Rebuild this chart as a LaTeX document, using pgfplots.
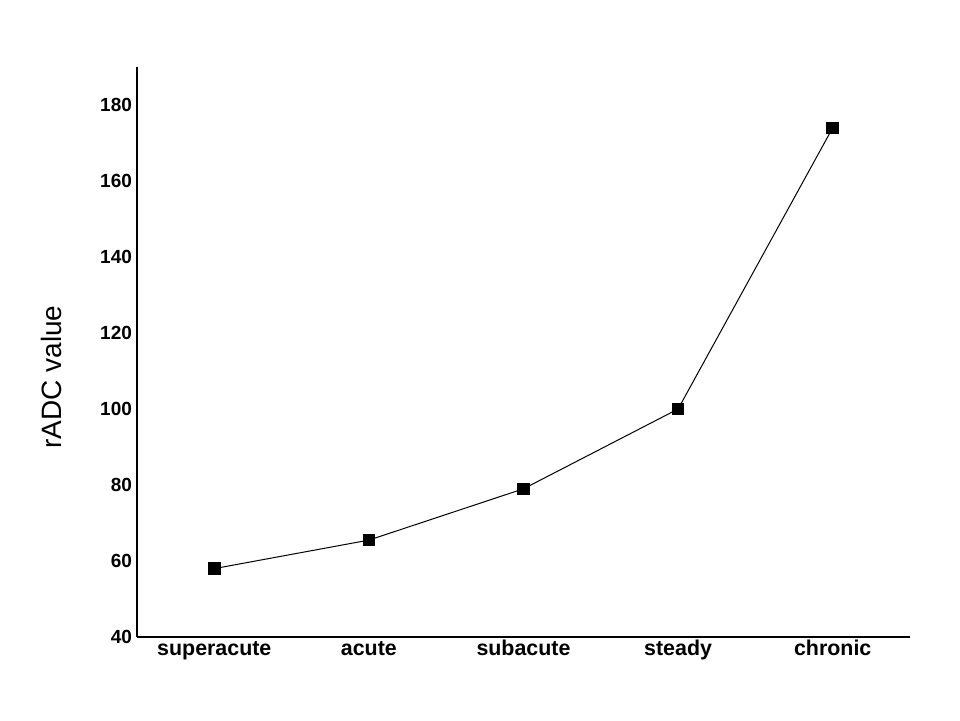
\documentclass[border=0pt]{standalone}
\usepackage{pgfplots}
\pgfplotsset{compat=1.18}
\usepackage{fontspec}
\setmainfont{Liberation Sans}
\begin{document}
\begin{tikzpicture}
\path (0,0) rectangle (480pt,360pt);
\begin{axis}[
  at={(68.5pt,41.5pt)}, anchor=south west,
  scale only axis, width=386.5pt, height=285pt,
  xmin=-0.5, xmax=4.5, ymin=40, ymax=190,
  axis lines*=left, axis line style={line width=1pt, -},
  xtick={0,1,2,3,4},
  xticklabels={superacute,acute,subacute,steady,chronic},
  ytick={40,60,...,180},
  major tick length=0pt,
  tick label style={font=\fontsize{9.5}{11}\selectfont\bfseries},
  xticklabel style={font=\fontsize{10.7}{12}\selectfont\bfseries, text height=0.75em, text depth=0.22em, yshift=2pt},
  yticklabel style={xshift=1pt},
  /pgf/number format/assume math mode=true,
  ylabel={rADC value},
  ylabel style={font=\fontsize{14}{16}\selectfont, yshift=12.5pt, xshift=-12.5pt},
]
\addplot[black, line width=0.5pt, mark=square*, mark size=2.9pt, mark options={solid}] coordinates {
(0,58) (1,65.5) (2,79) (3,100) (4,174)
};
\end{axis}
\end{tikzpicture}
\end{document}
